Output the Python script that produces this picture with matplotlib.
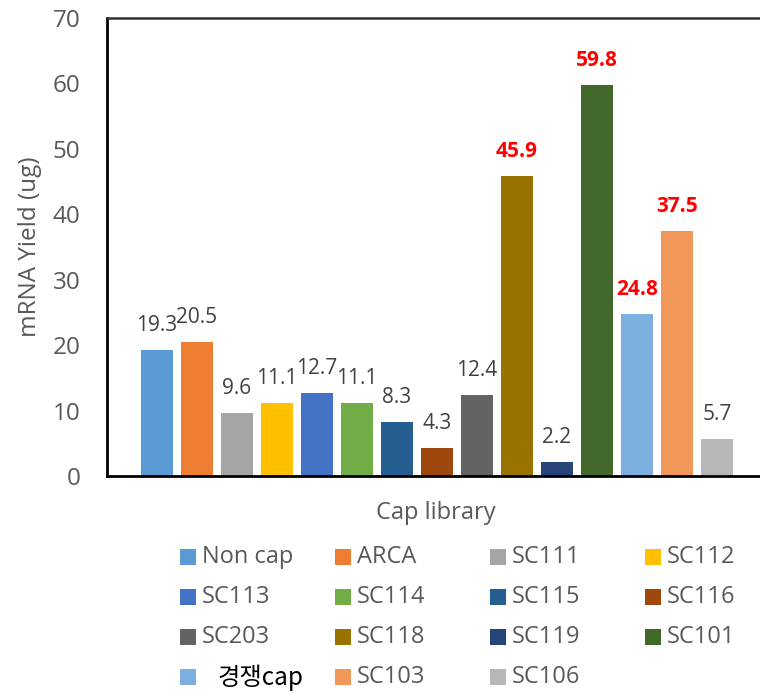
import matplotlib
matplotlib.use("Agg")
import matplotlib.pyplot as plt
import matplotlib.patches as patches

# data
labels = ["Non cap", "ARCA", "SC111", "SC112", "SC113", "SC114", "SC115", "SC116",
          "SC203", "SC118", "SC119", "SC101", "경쟁cap", "SC103", "SC106"]
values = [19.3, 20.5, 9.6, 11.1, 12.7, 11.1, 8.3, 4.3, 12.4, 45.9, 2.2, 59.8, 24.8, 37.5, 5.7]
colors = ["#5B9BD5", "#ED7D31", "#A5A5A5", "#FFC000", "#4472C4", "#70AD47", "#255E91",
          "#9E480E", "#636363", "#997300", "#264478", "#43682B", "#7CAFDD", "#F1975A", "#B7B7B7"]
highlight = ["SC118", "SC101", "경쟁cap", "SC103"]
yticks = [0, 10, 20, 30, 40, 50, 60, 70]

plt.rcParams['font.family'] = ['Open Sans', 'Noto Sans CJK KR', 'DejaVu Sans']
grey = "#595959"

fig = plt.figure(figsize=(7.6, 6.94), dpi=100)
W, H = 760, 694
ax = fig.add_axes([107 / W, (H - 476) / H, 1 - 107 / W, (476 - 18) / H])

x = list(range(len(values)))
bars = ax.bar(x, values, width=0.8, color=colors)

for b, v, name in zip(bars, values, labels):
    cx = b.get_x() + b.get_width() / 2
    if name in highlight:
        ax.annotate(f"{v:.1f}", (cx, v), xytext=(0, 10), textcoords="offset points",
                    ha="center", va="bottom", fontsize=15, fontweight="bold",
                    color="#FF0000")
    else:
        ax.annotate(f"{v:.1f}", (cx, v), xytext=(0, 10), textcoords="offset points",
                    ha="center", va="bottom", fontsize=15, color="#404040")

unit = 40.0
ax.set_xlim(-(157 - 107) / unit, (760 - 157) / unit)
ax.set_ylim(0, 70)
ax.set_yticks(yticks)
ax.set_xticks([])
ax.tick_params(axis="y", length=0, pad=19, labelsize=17.5, labelcolor=grey)

for s in ["left", "bottom"]:
    ax.spines[s].set_linewidth(2)
    ax.spines[s].set_color("black")
ax.spines["top"].set_linewidth(1.8)
ax.spines["top"].set_color("#333333")
ax.spines["right"].set_visible(False)

fig.text(30 / W, 1 - 247 / H, "mRNA Yield (ug)", rotation=90, ha="center", va="center",
         fontsize=17.5, color=grey)
fig.text(436 / W, 1 - 513 / H, "Cap library", ha="center", va="center",
         fontsize=17, color=grey)

# legend, 4 columns row by row like excel
col_x = [180, 335, 490, 645]
row_y = [557, 597, 637, 677]
for i, (name, c) in enumerate(zip(labels, colors)):
    r, k = divmod(i, 4)
    mx, my = col_x[k], row_y[r]
    fig.add_artist(patches.Rectangle((mx / W, 1 - (my + 8) / H), 16 / W, 16 / H,
                                     facecolor=c, edgecolor="none",
                                     transform=fig.transFigure))
    if name == "경쟁cap":
        fig.text((mx + 37) / W, 1 - (my + 1) / H, name, ha="left", va="center",
                 fontsize=17.5, color="black",
                 family=['Noto Sans CJK KR', 'DejaVu Sans'])
    else:
        fig.text((mx + 22) / W, 1 - my / H, name, ha="left", va="center",
                 fontsize=17, color=grey)

fig.savefig("out.png", dpi=100)
